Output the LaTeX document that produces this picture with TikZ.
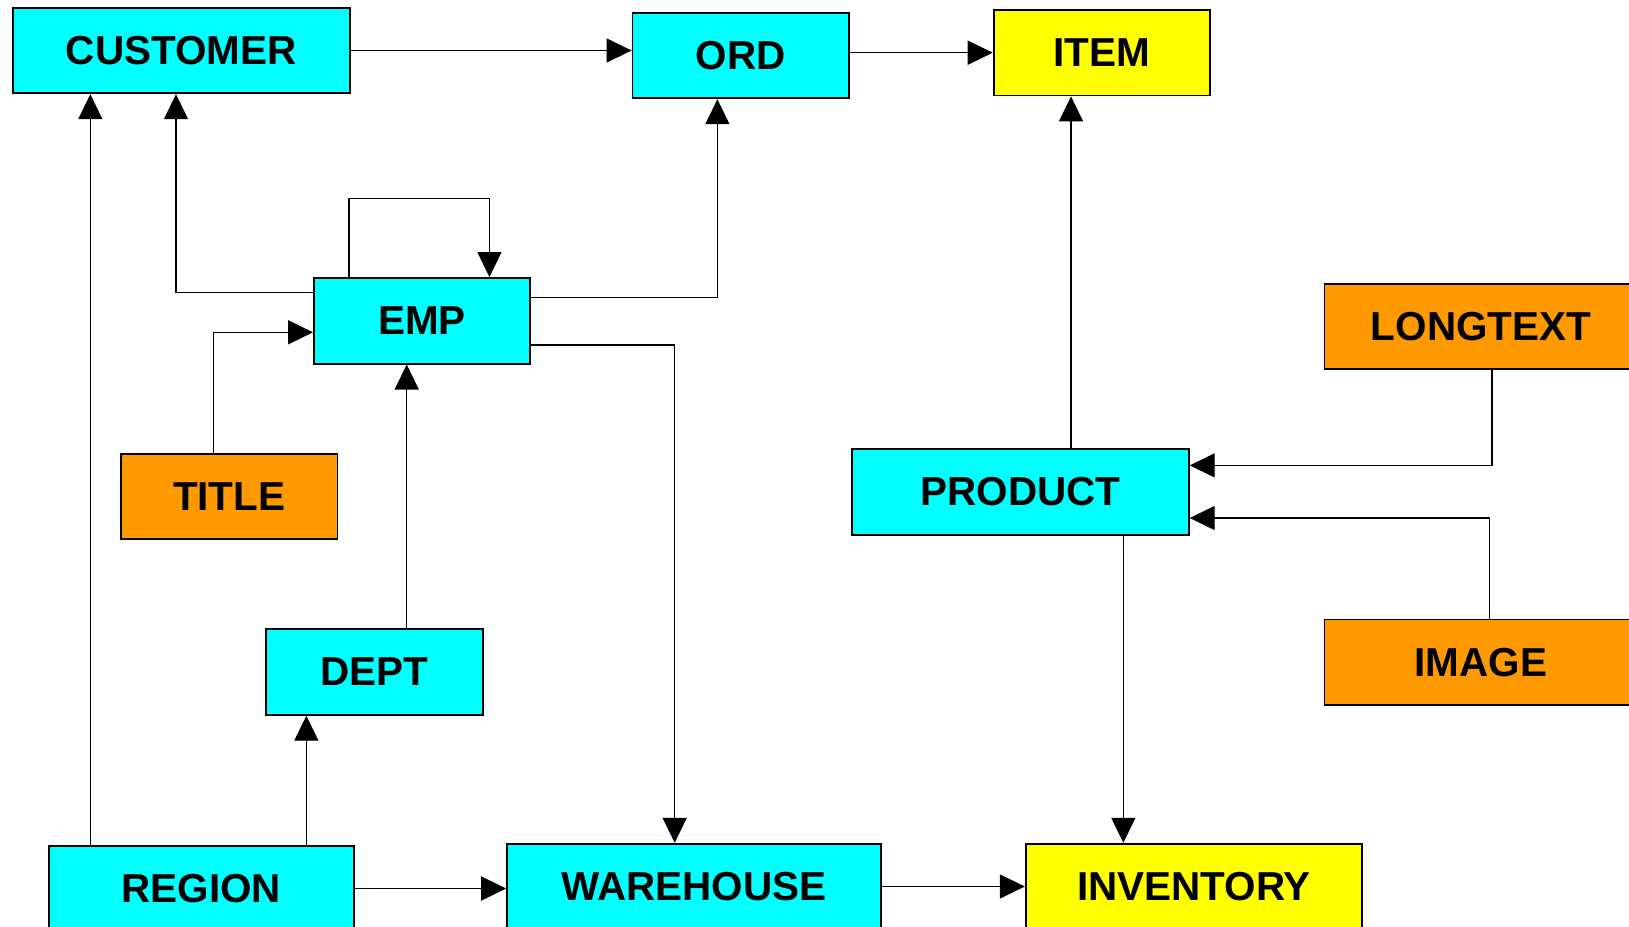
\documentclass[tikz,border=0pt]{standalone}
\usepackage{fontspec}
\setmainfont{Liberation Sans}
\usepackage{xcolor}
\usetikzlibrary{arrows.meta,calc,positioning}
\definecolor{coretable}{RGB}{0,255,255}
\definecolor{detailtable}{RGB}{255,255,0}
\definecolor{texttable}{RGB}{255,153,0}

\begin{document}
\begin{tikzpicture}[
    x=0.01cm, y=-0.01cm,
    font=\bfseries\fontsize{11.5}{13}\selectfont,
    table/.style={draw, line width=0.5pt, minimum height=0.856cm, inner sep=0pt},
    core/.style={table, fill=coretable},
    detail/.style={table, fill=detailtable},
    lookup/.style={table, fill=texttable},
    link/.style={-{Triangle[length=0.25cm, width=0.24cm]}, line width=0.4pt}
]
\useasboundingbox (0,0) rectangle (1629,927);
\clip (0,0) rectangle (1629,927);

% tables
\node[core, minimum width=3.368cm] (customer) at (181.2,50.5) {CUSTOMER};
\node[core, minimum width=2.165cm] (ord) at (740.8,55.5) {ORD};
\node[detail, minimum width=2.16cm] (item) at (1101.7,52.7) {ITEM};
\node[core, minimum width=2.16cm] (emp) at (422,320.8) {EMP};
\node[lookup, minimum width=3.13cm] (longtext) at (1481,326.5) {LONGTEXT};
\node[lookup, minimum width=2.164cm] (title) at (229.2,496.5) {TITLE};
\node[core, minimum width=3.363cm] (product) at (1020.6,491.8) {PRODUCT};
\node[lookup, minimum width=3.13cm] (image) at (1481,662.2) {IMAGE};
\node[core, minimum width=2.164cm] (dept) at (374.5,672) {DEPT};
\node[core, minimum width=3.052cm] (region) at (201.4,888.5) {REGION};
\node[core, minimum width=3.737cm] (warehouse) at (694,886.5) {WAREHOUSE};
\node[detail, minimum width=3.363cm] (inventory) at (1194,886.5) {INVENTORY};

% references
\draw[link] (customer.east) -- (customer.east -| ord.west);
\draw[link] (ord.east |- item.west) -- (item.west);
\draw[link] ([xshift=0.504cm]product.north) -- ([xshift=0.504cm]product.north |- item.south);
\draw[link] ([xshift=0.109cm]longtext.south) |- ([yshift=0.264cm]product.east);
\draw[link] ([xshift=0.084cm]image.north) |- ([yshift=-0.262cm]product.east);
\draw[link] ([xshift=1.027cm]product.south) -- ([xshift=1.027cm]product.south |- inventory.north);
\draw[link] (warehouse.east) -- (warehouse.east -| inventory.west);
\draw[link] (region.east) -- (region.east -| warehouse.west);
\draw[link] ([xshift=-1.11cm]region.north) -- ([xshift=-1.11cm]region.north |- customer.south);
\draw[link] ([xshift=1.049cm]region.north) -- ([xshift=1.049cm]region.north |- dept.south);
\draw[link] ([xshift=0.322cm]dept.north) -- ([xshift=0.322cm]dept.north |- emp.south);
\draw[link] ([xshift=-0.156cm]title.north) |- ([yshift=-0.115cm]emp.west);
\draw[link] ([yshift=0.281cm]emp.west) -| ([xshift=-0.052cm]customer.south);
\draw[link] ([yshift=0.235cm]emp.east) -| ([xshift=-0.234cm]ord.south);
\draw[link] ([yshift=-0.242cm]emp.east) -| ([xshift=-0.193cm]warehouse.north);
\draw[link] ([xshift=-0.73cm]emp.north) -- ++(0,0.784cm) -| ([xshift=0.674cm]emp.north);
\end{tikzpicture}
\end{document}
